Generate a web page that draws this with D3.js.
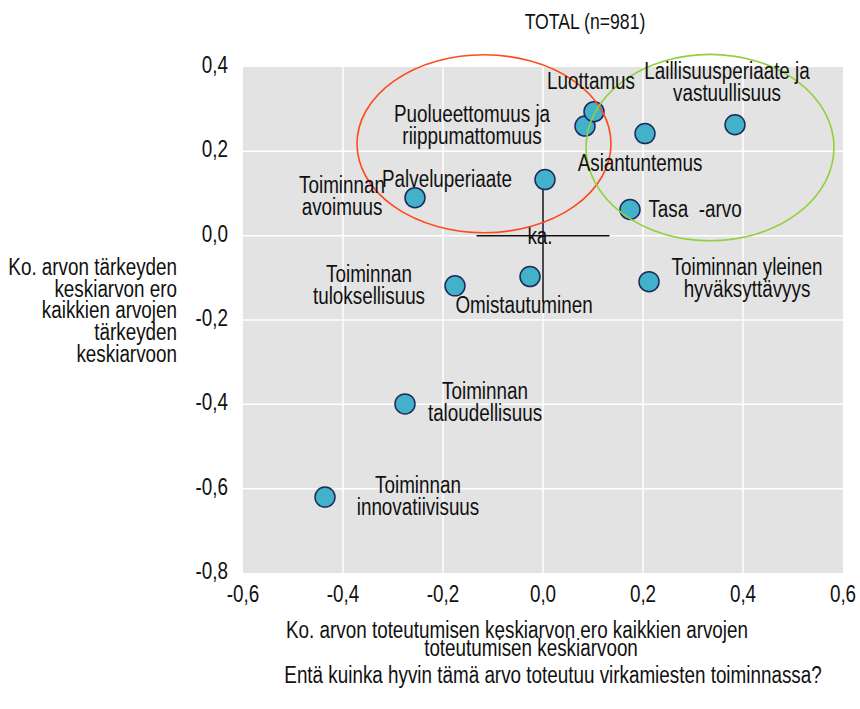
<!DOCTYPE html>
<html>
<head>
<meta charset="utf-8">
<script src="https://cdn.jsdelivr.net/npm/d3@7"></script>
<style>
    body { margin: 0; background: #fff; }
    svg text { font-family: "Liberation Sans", Arial, sans-serif; fill: #111; }
    .plotBg { fill: #e3e3e3; }
    .gridLines { stroke: #fff; stroke-width: 1.5; }
    .cross { stroke: #111; stroke-width: 1.5; }
    .dots { fill: #42b1c9; stroke: #1d2a5c; stroke-width: 1.5; }
    .labels { font-size: 23px; white-space: pre; }
    .ticks { font-size: 23px; }
    .axisTitle { font-size: 23px; }
    .chartTitle { font-size: 21.5px; }
</style>
</head>
<body>
<script>
//wrap everything in a self-executing anonymous function
(function(){

//values
var valueNames = [
    "Toiminnan\navoimuus",
    "Palveluperiaate",
    "Puolueettomuus ja\nriippumattomuus",
    "Luottamus",
    "Asiantuntemus",
    "Laillisuusperiaate ja\nvastuullisuus",
    "Tasa  -arvo",
    "Toiminnan yleinen\nhyväksyttävyys",
    "Toiminnan\ntuloksellisuus",
    "Omistautuminen",
    "Toiminnan\ntaloudellisuus",
    "Toiminnan\ninnovatiivisuus"
];
var realisation = [-0.256, 0.004, 0.084, 0.102, 0.204, 0.384, 0.174, 0.212, -0.176, -0.026, -0.276, -0.436]; //x
var importance = [0.090, 0.133, 0.260, 0.294, 0.242, 0.263, 0.062, -0.109, -0.119, -0.097, -0.399, -0.620]; //y

var xTicks = [-0.6, -0.4, -0.2, 0.0, 0.2, 0.4, 0.6];
var yTicks = [0.4, 0.2, 0.0, -0.2, -0.4, -0.6, -0.8];

//circled groups (centre and radii in data units)
var groupCx = [-0.118, 0.334];
var groupCy = [0.218, 0.209];
var groupRx = [0.254, 0.248];
var groupRy = [0.211, 0.221];

var titleText = "TOTAL (n=981)";
var yTitle = ["Ko. arvon tärkeyden", "keskiarvon ero", "kaikkien arvojen", "tärkeyden", "keskiarvoon"];
var xTitle = ["Ko. arvon toteutumisen keskiarvon ero kaikkien arvojen", "toteutumisen keskiarvoon"];
var question = "Entä kuinka hyvin tämä arvo toteutuu virkamiesten toiminnassa?";

//label placement relative to each dot (pixels)
var labelDx = [-73, -98, -113, -3, -5, -8, 65, 98, -86, -6, 80, 93];
var labelDy = [-5, 7, -4, -23, 37, -46, 7, -7, -4, 36, -5, -4];
var groupColors = ["#ff4a1c", "#8fd13b"];

//the source uses a condensed face; squeeze a regular one horizontally
var condense = 0.82;

window.onload = setChart();

//append a (possibly multi-line) condensed text anchored at x, y
function addText(parent, x, y, str, anchor, cls, lineHeight){
    var g = parent.append("g")
        .attr("transform", "translate(" + x + "," + y + ") scale(" + condense + ",1)");
    var t = g.append("text")
        .attr("class", cls)
        .attr("text-anchor", anchor)
        .attr("xml:space", "preserve");
    t.selectAll("tspan")
        .data(str.split("\n"))
        .enter()
        .append("tspan")
        .attr("x", 0)
        .attr("y", function(d, j){ return j * (lineHeight || 22); })
        .text(function(d){ return d; });
    return t;
};

function setChart(){
    var width = 860,
        height = 709;

    var svg = d3.select("body")
        .append("svg")
        .attr("width", width)
        .attr("height", height);

    //scales
    var x = d3.scaleLinear()
        .domain([-0.6, 0.6])
        .range([243, 843]);
    var y = d3.scaleLinear()
        .domain([-0.8, 0.4])
        .range([573, 67]);

    //plot background
    svg.append("rect")
        .attr("class", "plotBg")
        .attr("x", x(-0.6))
        .attr("y", y(0.4))
        .attr("width", x(0.6) - x(-0.6))
        .attr("height", y(-0.8) - y(0.4));

    //grid lines
    svg.selectAll(".vGrid")
        .data(xTicks.slice(1, -1))
        .enter()
        .append("line")
        .attr("class", "gridLines")
        .attr("x1", function(d){ return x(d); })
        .attr("x2", function(d){ return x(d); })
        .attr("y1", y(0.4))
        .attr("y2", y(-0.8));
    svg.selectAll(".hGrid")
        .data(yTicks.slice(1, -1))
        .enter()
        .append("line")
        .attr("class", "gridLines")
        .attr("x1", x(-0.6))
        .attr("x2", x(0.6))
        .attr("y1", function(d){ return y(d); })
        .attr("y2", function(d){ return y(d); });

    //tick labels
    var fmt = function(d){ return d3.format(".1f")(d).replace(".", ",").replace("−", "-"); };
    xTicks.forEach(function(d){
        addText(svg, x(d), 602, fmt(d), "middle", "ticks");
    });
    yTicks.forEach(function(d){
        addText(svg, 228, y(d) + 6, fmt(d), "end", "ticks");
    });

    //average cross
    svg.append("line")
        .attr("class", "cross")
        .attr("x1", x(-0.133)).attr("x2", x(0.133))
        .attr("y1", y(0)).attr("y2", y(0));
    svg.append("line")
        .attr("class", "cross")
        .attr("x1", x(0)).attr("x2", x(0))
        .attr("y1", y(0.157)).attr("y2", y(-0.157));
    addText(svg, x(0) - 3, y(0) + 8, "ka.", "middle", "labels");

    //dots
    svg.selectAll(".dots")
        .data(valueNames)
        .enter()
        .append("circle")
        .attr("class", "dots")
        .attr("cx", function(d, i){ return x(realisation[i]); })
        .attr("cy", function(d, i){ return y(importance[i]); })
        .attr("r", 10);

    //group ellipses
    svg.selectAll(".groups")
        .data(groupCx)
        .enter()
        .append("ellipse")
        .attr("cx", function(d){ return x(d); })
        .attr("cy", function(d, i){ return y(groupCy[i]); })
        .attr("rx", function(d, i){ return x(groupRx[i]) - x(0); })
        .attr("ry", function(d, i){ return y(0) - y(groupRy[i]); })
        .style("fill", "none")
        .style("stroke", function(d, i){ return groupColors[i]; })
        .style("stroke-width", 1.6);

    //dot labels
    valueNames.forEach(function(d, i){
        addText(svg, x(realisation[i]) + labelDx[i], y(importance[i]) + labelDy[i], d, "middle", "labels");
    });

    //titles
    addText(svg, 585, 29, titleText, "middle", "chartTitle");
    addText(svg, 177, 275, yTitle.join("\n"), "end", "axisTitle", 21.7);
    addText(svg, 517, 638, xTitle[0], "middle", "axisTitle");
    addText(svg, 531, 656, xTitle[1], "middle", "axisTitle");
    addText(svg, 553, 683, question, "middle", "axisTitle");
};
})();
</script>
</body>
</html>
